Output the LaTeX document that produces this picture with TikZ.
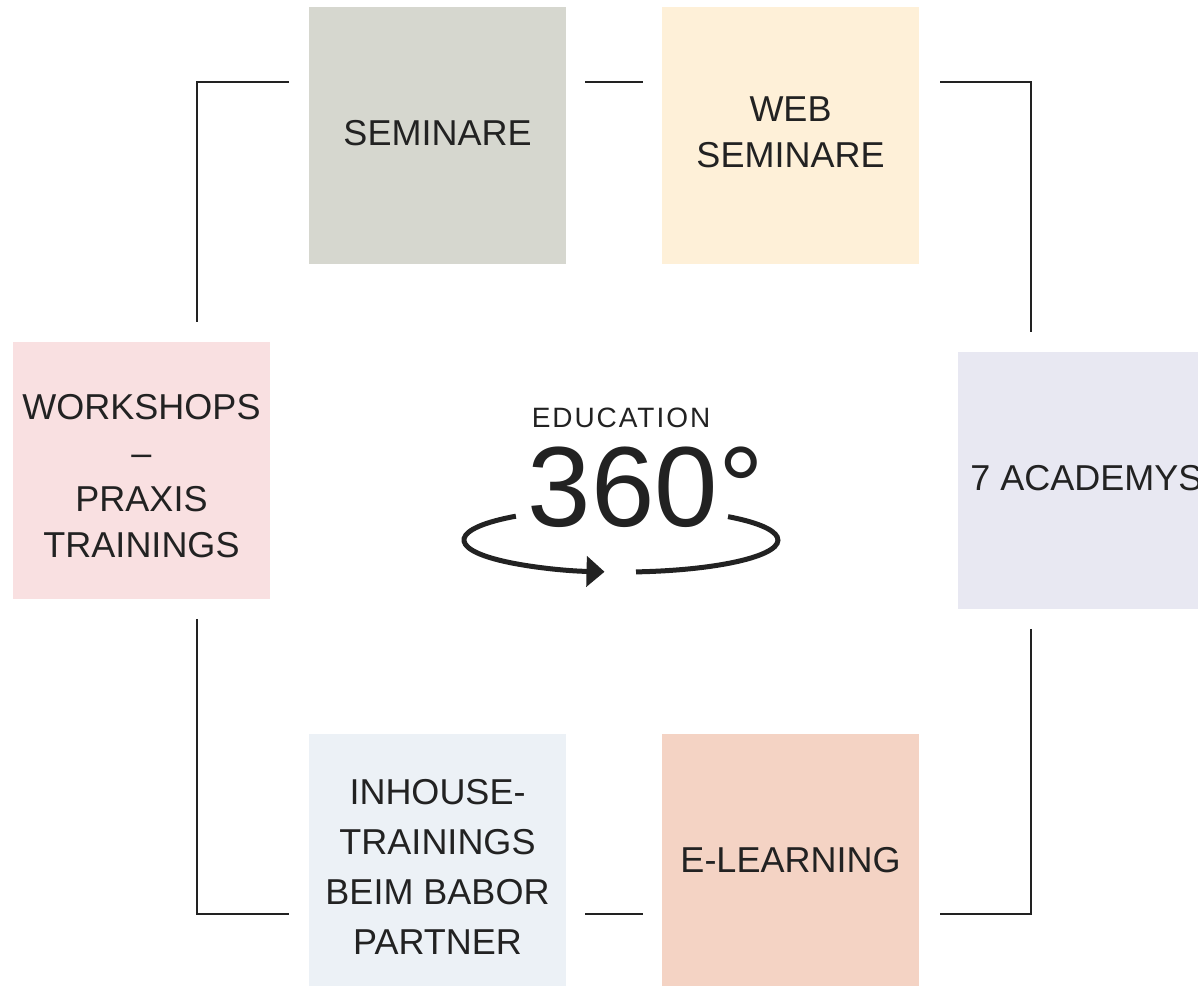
\documentclass[tikz,border=0pt]{standalone}
\usepackage{fontspec}
\setmainfont{Liberation Sans}
\newfontfamily\spacedfont[LetterSpace=7]{Liberation Sans}
\usetikzlibrary{arrows.meta}
\definecolor{ink}{HTML}{222222}
\definecolor{csem}{HTML}{D6D7CF}
\definecolor{cweb}{HTML}{FEF0D8}
\definecolor{cwork}{HTML}{F9E0E1}
\definecolor{cacad}{HTML}{E8E8F2}
\definecolor{cinh}{HTML}{ECF1F6}
\definecolor{celearn}{HTML}{F4D3C4}
\tikzset{
  tile/.style={rectangle, minimum width=257pt, minimum height=257pt, inner sep=0pt,
    align=center, text=ink, font=\fontsize{36}{46}\selectfont},
  label/.style={align=center, text=ink, inner sep=0pt, font=\fontsize{36}{46}\selectfont},
  link/.style={draw=ink, line width=2.5pt},
  ring/.style={draw=ink, line width=5pt}
}
\begin{document}
\begin{tikzpicture}[x=1pt,y=1pt]
\useasboundingbox (0,0) rectangle (1198,985);
\clip (0,0) rectangle (1198,985);
% tiles
\node[tile, fill=csem]    (sem)   at (437.5,849.5) {};
\node[tile, fill=cweb]    (web)   at (790.5,849.5) {};
\node[tile, fill=cwork]   (work)  at (141.5,514.5) {};
\node[tile, fill=cacad]   (acad)  at (1086.5,504.5) {};
\node[tile, fill=cinh]    (inh)   at (437.5,122.5) {};
\node[tile, fill=celearn] (elearn) at (790.5,122.5) {};
% tile texts
\node[label] (semT)   at ([yshift=2pt]sem.center) {SEMINARE};
\node[label] (webT)   at ([yshift=3pt]web.center) {WEB\\SEMINARE};
\node[label] (workT)  at ([yshift=-6pt]work.center) {WORKSHOPS\\--\\PRAXIS\\TRAININGS};
\node[label, font=\fontsize{36}{50}\selectfont] (inhT) at ([yshift=-4pt]inh.center) {INHOUSE-\\TRAININGS\\BEIM BABOR\\PARTNER};
\node[label] (acadT)  at ([yshift=2pt]acad.center) {7 ACADEMYS};
\node[label] (elearnT) at ([yshift=2pt]elearn.center) {E-LEARNING};
% connector end points
\coordinate (tlA) at (289,903); \coordinate (tlB) at (197,903); \coordinate (tlC) at (197,663);
\coordinate (tmA) at (585,903); \coordinate (tmB) at (643,903);
\coordinate (trA) at (940,903); \coordinate (trB) at (1031,903); \coordinate (trC) at (1031,653);
\coordinate (blA) at (197,366); \coordinate (blB) at (197,71); \coordinate (blC) at (289,71);
\coordinate (bmA) at (585,71); \coordinate (bmB) at (643,71);
\coordinate (brA) at (1031,356); \coordinate (brB) at (1031,71); \coordinate (brC) at (940,71);
\draw[link] (tlA) -- (tlB) -- (tlC);
\draw[link] (tmA) -- (tmB);
\draw[link] (trA) -- (trB) -- (trC);
\draw[link] (blA) -- (blB) -- (blC);
\draw[link] (bmA) -- (bmB);
\draw[link] (brA) -- (brB) -- (brC);
% centre logo
\node[anchor=base, text=ink, inner sep=0pt, font=\spacedfont\fontsize{28}{30}\selectfont] (edu) at (621,557) {EDUCATION};
\node[anchor=base, text=ink, inner sep=0pt, font=\fontsize{114}{120}\selectfont] (deg) at (623,458) {360\rlap{°}};
\coordinate (ringL) at (515.9,468.8);
\coordinate (ringR) at (636,413.1);
\draw[ring, -{Triangle[length=18pt,width=30pt]}] (ringL) arc[start angle=132, end angle=264, x radius=157, y radius=32];
\draw[ring] (ringR) arc[start angle=-84.5, end angle=47, x radius=157, y radius=32];
\end{tikzpicture}
\end{document}
